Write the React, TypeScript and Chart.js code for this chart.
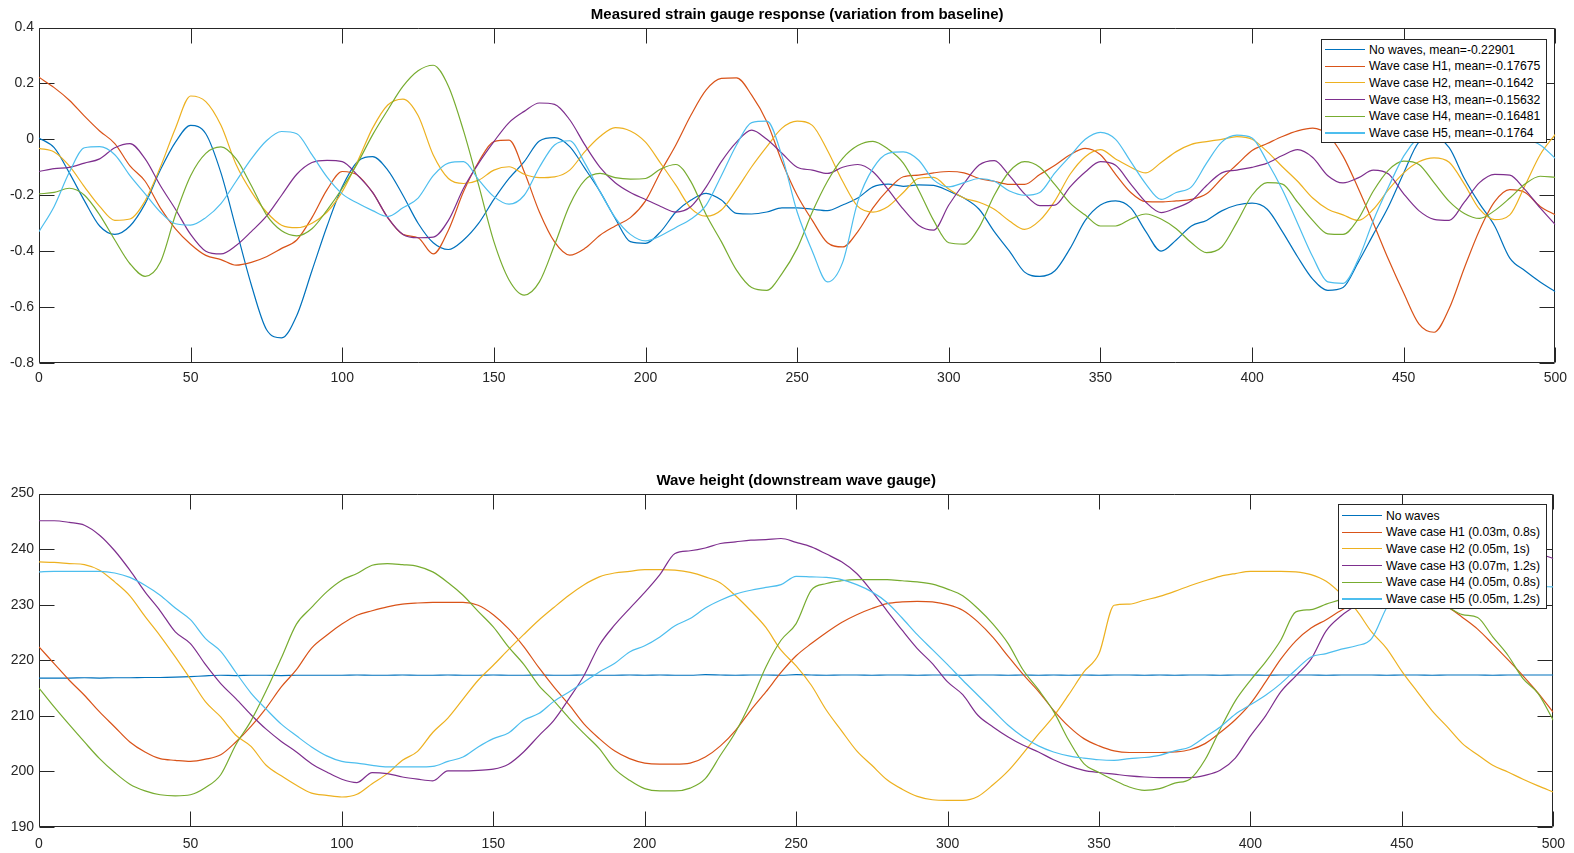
import React, { useEffect, useRef } from "react";
import { Chart, registerables } from "chart.js";

Chart.register(...registerables);

// ---------- data ----------
const sampleX = [
  0, 5, 10, 15, 20, 25, 30, 35, 40, 45,
  50, 55, 60, 65, 70, 75, 80, 85, 90, 95,
  100, 105, 110, 115, 120, 125, 130, 135, 140, 145,
  150, 155, 160, 165, 170, 175, 180, 185, 190, 195,
  200, 205, 210, 215, 220, 225, 230, 235, 240, 245,
  250, 255, 260, 265, 270, 275, 280, 285, 290, 295,
  300, 305, 310, 315, 320, 325, 330, 335, 340, 345,
  350, 355, 360, 365, 370, 375, 380, 385, 390, 395,
  400, 405, 410, 415, 420, 425, 430, 435, 440, 445,
  450, 455, 460, 465, 470, 475, 480, 485, 490, 495,
  500,
];

const xTicks = [0, 50, 100, 150, 200, 250, 300, 350, 400, 450, 500];
const strainTicks = [-0.8, -0.6, -0.4, -0.2, 0, 0.2, 0.4];
const waveTicks = [190, 200, 210, 220, 230, 240, 250];

const strainTitle = "Measured strain gauge response (variation from baseline)";
const waveTitle = "Wave height (downstream wave gauge)";

const strainLabels = [
  "No waves, mean=-0.22901",
  "Wave case H1, mean=-0.17675",
  "Wave case H2, mean=-0.1642",
  "Wave case H3, mean=-0.15632",
  "Wave case H4, mean=-0.16481",
  "Wave case H5, mean=-0.1764",
];
const waveLabels = [
  "No waves",
  "Wave case H1 (0.03m, 0.8s)",
  "Wave case H2 (0.05m, 1s)",
  "Wave case H3 (0.07m, 1.2s)",
  "Wave case H4 (0.05m, 0.8s)",
  "Wave case H5 (0.05m, 1.2s)",
];

const seriesColors = ["#0072BD", "#D95319", "#EDB120", "#7E2F8E", "#77AC30", "#4DBEEE"];

const strainNoWaves = [
  0.005, -0.03, -0.12, -0.22, -0.31, -0.34, -0.31, -0.23, -0.11, -0.01,
  0.05, 0.02, -0.12, -0.32, -0.52, -0.68, -0.71, -0.63, -0.47, -0.31,
  -0.17, -0.08, -0.062, -0.11, -0.2, -0.3, -0.37, -0.394, -0.36, -0.3,
  -0.215, -0.14, -0.08, -0.006, 0.006, -0.026, -0.104, -0.187, -0.283, -0.366,
  -0.372, -0.33, -0.26, -0.217, -0.193, -0.217, -0.265, -0.267, -0.26, -0.245,
  -0.245, -0.25, -0.255, -0.235, -0.21, -0.17, -0.16, -0.168, -0.163, -0.165,
  -0.185, -0.21, -0.25, -0.33, -0.4, -0.475, -0.49, -0.47, -0.39, -0.29,
  -0.235, -0.22, -0.245, -0.33, -0.4, -0.36, -0.31, -0.29, -0.256, -0.235,
  -0.228, -0.25, -0.33, -0.42, -0.5, -0.54, -0.53, -0.44, -0.34, -0.24,
  -0.12, -0.01, 0.01, -0.03, -0.14, -0.23, -0.31, -0.425, -0.47, -0.51,
  -0.545,
];
const strainH1 = [
  0.222, 0.185, 0.14, 0.083, 0.03, -0.015, -0.095, -0.15, -0.245, -0.32,
  -0.375, -0.415, -0.43, -0.45, -0.44, -0.42, -0.39, -0.36, -0.28, -0.18,
  -0.115, -0.128, -0.19, -0.28, -0.34, -0.352, -0.41, -0.325, -0.187, -0.08,
  -0.008, -0.003, -0.116, -0.26, -0.367, -0.414, -0.39, -0.343, -0.31, -0.28,
  -0.22, -0.116, -0.02, 0.087, 0.177, 0.218, 0.22, 0.158, 0.063, -0.08,
  -0.2, -0.29, -0.37, -0.385, -0.33, -0.245, -0.18, -0.134, -0.128, -0.12,
  -0.115, -0.12, -0.14, -0.15, -0.161, -0.161, -0.126, -0.093, -0.055, -0.032,
  -0.055, -0.125, -0.19, -0.223, -0.224, -0.22, -0.215, -0.195, -0.14, -0.09,
  -0.04, -0.015, 0.01, 0.03, 0.04, 0.016, -0.06, -0.175, -0.3, -0.43,
  -0.55, -0.66, -0.69, -0.605, -0.46, -0.325, -0.223, -0.18, -0.19, -0.24,
  -0.27,
];
const strainH2 = [
  -0.032, -0.045, -0.095, -0.17, -0.24, -0.29, -0.285, -0.22, -0.1, 0.04,
  0.155, 0.135, 0.05, -0.09, -0.187, -0.26, -0.307, -0.316, -0.3, -0.26,
  -0.187, -0.08, 0.04, 0.123, 0.144, 0.085, -0.056, -0.14, -0.158, -0.146,
  -0.11, -0.098, -0.125, -0.137, -0.134, -0.11, -0.044, 0.01, 0.042, 0.03,
  -0.01, -0.086, -0.164, -0.247, -0.275, -0.253, -0.18, -0.098, -0.026, 0.04,
  0.065, 0.05, -0.04, -0.15, -0.24, -0.26, -0.24, -0.19, -0.14, -0.136,
  -0.178, -0.21, -0.225, -0.25, -0.292, -0.322, -0.29, -0.22, -0.125, -0.062,
  -0.037, -0.07, -0.1, -0.12, -0.083, -0.044, -0.018, -0.008, 0.0, 0.01,
  0.0, -0.044, -0.098, -0.15, -0.21, -0.25, -0.27, -0.29, -0.25, -0.18,
  -0.12, -0.08, -0.066, -0.082, -0.16, -0.25, -0.287, -0.27, -0.165, -0.055,
  0.018,
];
const strainH3 = [
  -0.115, -0.105, -0.1, -0.085, -0.07, -0.03, -0.015, -0.07, -0.165, -0.25,
  -0.34, -0.4, -0.41, -0.38, -0.33, -0.275, -0.2, -0.125, -0.083, -0.075,
  -0.08, -0.128, -0.19, -0.28, -0.34, -0.352, -0.35, -0.29, -0.175, -0.085,
  -0.008, 0.06, 0.1, 0.13, 0.125, 0.07, -0.02, -0.1, -0.155, -0.19,
  -0.215, -0.24, -0.26, -0.24, -0.17, -0.08, -0.01, 0.033, 0.0, -0.05,
  -0.1, -0.11, -0.122, -0.1, -0.09, -0.116, -0.18, -0.25, -0.307, -0.325,
  -0.235, -0.158, -0.092, -0.076, -0.13, -0.195, -0.237, -0.235, -0.17, -0.117,
  -0.08, -0.093, -0.16, -0.225, -0.262, -0.245, -0.22, -0.165, -0.12, -0.11,
  -0.1, -0.085, -0.058, -0.037, -0.065, -0.13, -0.156, -0.138, -0.11, -0.124,
  -0.195, -0.255, -0.286, -0.29, -0.225, -0.155, -0.125, -0.128, -0.18, -0.245,
  -0.305,
];
const strainH4 = [
  -0.195, -0.19, -0.175, -0.2, -0.27, -0.36, -0.445, -0.49, -0.44, -0.27,
  -0.13, -0.05, -0.027, -0.07, -0.165, -0.27, -0.327, -0.345, -0.32, -0.253,
  -0.175, -0.086, 0.016, 0.105, 0.189, 0.245, 0.265, 0.19, 0.03, -0.165,
  -0.366, -0.503, -0.557, -0.51, -0.378, -0.235, -0.146, -0.122, -0.137, -0.142,
  -0.14, -0.106, -0.09, -0.152, -0.27, -0.366, -0.468, -0.53, -0.54, -0.48,
  -0.39, -0.26, -0.15, -0.068, -0.022, -0.007, -0.035, -0.085, -0.18, -0.29,
  -0.37, -0.375, -0.315, -0.2, -0.115, -0.08, -0.1, -0.162, -0.228, -0.271,
  -0.31, -0.31, -0.285, -0.267, -0.285, -0.32, -0.37, -0.405, -0.385, -0.297,
  -0.2, -0.155, -0.16, -0.225, -0.29, -0.338, -0.34, -0.285, -0.185, -0.11,
  -0.078, -0.09, -0.155, -0.222, -0.265, -0.283, -0.255, -0.21, -0.16, -0.132,
  -0.136,
];
const strainH5 = [
  -0.33, -0.24, -0.118, -0.03, -0.026, -0.055, -0.13, -0.195, -0.26, -0.302,
  -0.307, -0.28, -0.23, -0.15, -0.07, -0.005, 0.028, 0.02, -0.055, -0.135,
  -0.195, -0.228, -0.255, -0.276, -0.245, -0.21, -0.13, -0.085, -0.08, -0.145,
  -0.205, -0.232, -0.2, -0.1, -0.02, -0.005, -0.085, -0.187, -0.28, -0.34,
  -0.363, -0.345, -0.315, -0.285, -0.235, -0.13, -0.02, 0.06, 0.065, -0.06,
  -0.26, -0.4, -0.51, -0.44, -0.223, -0.104, -0.05, -0.045, -0.074, -0.145,
  -0.17, -0.155, -0.14, -0.15, -0.185, -0.2, -0.19, -0.12, -0.06, 0.0,
  0.025, 0.0, -0.08, -0.16, -0.215, -0.19, -0.17, -0.085, -0.01, 0.015,
  0.005, -0.08, -0.18, -0.3, -0.42, -0.51, -0.515, -0.43, -0.29, -0.17,
  -0.06, 0.01, 0.05, 0.07, 0.06, 0.04, 0.02, 0.01, 0.0, -0.02,
  -0.068,
];

const waveNoWaves = [
  216.8, 216.8, 216.8, 216.85, 216.8, 216.85, 216.85, 216.9, 216.9, 216.95,
  217.05, 217.2, 217.3, 217.25, 217.3, 217.3, 217.25, 217.3, 217.3, 217.3,
  217.3, 217.35, 217.3, 217.3, 217.35, 217.3, 217.3, 217.35, 217.3, 217.3,
  217.35, 217.3, 217.3, 217.35, 217.3, 217.3, 217.35, 217.3, 217.3, 217.35,
  217.3, 217.35, 217.3, 217.3, 217.4, 217.35, 217.3, 217.35, 217.35, 217.3,
  217.4, 217.35, 217.3, 217.35, 217.35, 217.3, 217.35, 217.35, 217.3, 217.35,
  217.35, 217.3, 217.35, 217.35, 217.3, 217.35, 217.3, 217.35, 217.3, 217.35,
  217.3, 217.35, 217.35, 217.3, 217.35, 217.3, 217.35, 217.35, 217.3, 217.35,
  217.35, 217.3, 217.35, 217.35, 217.35, 217.3, 217.35, 217.35, 217.35, 217.3,
  217.35, 217.35, 217.3, 217.35, 217.35, 217.35, 217.3, 217.35, 217.35, 217.35,
  217.35,
];
const waveH1 = [
  222.4, 219.4, 216.4, 213.7, 210.7, 208, 205.3, 203.5, 202.3, 202,
  201.8, 202.2, 203, 205.3, 208.1, 211.4, 215.2, 218.3, 222.2, 224.5,
  226.5, 228.1, 228.9, 229.6, 230.1, 230.3, 230.4, 230.4, 230.4, 229.9,
  228.2, 225.7, 222.5, 218.7, 215.2, 212, 208.5, 205.9, 203.7, 202.3,
  201.5, 201.3, 201.3, 201.5, 202.6, 204.6, 207.4, 211, 214.3, 217.8,
  220.8, 223, 225, 226.8, 228.2, 229.3, 230.2, 230.5, 230.6, 230.5,
  230, 229, 226.9, 224.1, 220.7, 217.4, 214.4, 211, 208.1, 205.9,
  204.6, 203.7, 203.4, 203.4, 203.4, 203.5, 203.9, 205, 207, 209.3,
  212.2, 216.1, 220.2, 223.5, 225.8, 227.3, 229, 230.3, 230.9, 231,
  230.7, 230.6, 230.2, 229.6, 227.7, 225.6, 222.9, 220.1, 217.2, 214.1,
  210.6,
];
const waveH2 = [
  237.7, 237.6, 237.4, 237.2, 236.2, 234.1, 231.6, 227.9, 224.4, 220.6,
  216.6, 212.5, 209.8, 206.5, 204.5, 201.1, 199.2, 197.5, 196.1, 195.7,
  195.4, 195.9, 197.8, 199.6, 202, 203.6, 207, 209.6, 213, 216.4,
  219.1, 221.9, 224.6, 227.2, 229.5, 231.7, 233.6, 235, 235.7, 236,
  236.3, 236.3, 236.2, 235.8, 235, 233.9, 231.6, 228.9, 225.9, 221.8,
  219, 215.5, 211, 207.3, 203.7, 201.1, 198.5, 196.8, 195.5, 194.9,
  194.8, 194.8, 195.5, 197.6, 200.1, 203.3, 206.7, 209.9, 213.8, 217.9,
  221.2, 229.9, 230.1, 230.8, 231.5, 232.4, 233.4, 234.3, 235.1, 235.6,
  236, 236, 236, 235.9, 235.4, 234.2, 231.9, 229, 225.1, 222.1,
  218, 214.4, 210.9, 208, 205, 203, 201.1, 199.9, 198.6, 197.4,
  196.3,
];
const waveH3 = [
  245.1, 245.1, 244.8, 244.3, 242.5, 239.7, 236.2, 232.3, 228.9, 225.1,
  223, 219.2, 215.8, 213.1, 210.2, 207.6, 205.4, 203.5, 201.4, 199.9,
  198.6, 198, 199.8, 199.6, 199, 198.6, 198.3, 200.1, 200.1, 200.2,
  200.4, 201.3, 203.5, 206.4, 209.2, 213.1, 217.3, 222.7, 226.3, 229.3,
  232.2, 235.4, 239.2, 239.7, 240.2, 241, 241.3, 241.6, 241.7, 241.9,
  241.2, 240.4, 239.1, 237.7, 235.6, 232.4, 228.9, 225.4, 222.1, 219.4,
  216.1, 213.8, 210.1, 208, 206.2, 204.7, 203.5, 202.1, 201, 200.2,
  199.8, 199.5, 199.2, 199, 198.9, 198.9, 198.9, 199.3, 200.2, 202.4,
  206.4, 210, 214.3, 217.2, 220.2, 225.3, 228, 230, 232.8, 235.5,
  237.6, 239.2, 240.3, 240.9, 241.1, 241, 240.7, 240.3, 239.8, 239.2,
  238.3,
];
const waveH4 = [
  215, 211.6, 208.4, 205.3, 202.3, 199.8, 197.7, 196.5, 195.8, 195.6,
  195.8, 197.1, 199.4, 204.8, 209.1, 214.5, 220.4, 226.5, 229.5, 232.3,
  234.4, 235.6, 237.1, 237.4, 237.2, 236.9, 235.9, 234, 231.7, 228.8,
  226, 222.4, 219.3, 215.5, 212.7, 209.6, 206.8, 204.1, 200.5, 198.4,
  196.9, 196.5, 196.5, 197, 198.7, 202.9, 207.1, 212.5, 218.8, 223.6,
  226.6, 232.6, 233.8, 234.3, 234.5, 234.5, 234.5, 234.3, 234.1, 233.7,
  232.8, 231.6, 229.3, 226.5, 223, 218.2, 214.7, 210.8, 205.6, 201.4,
  199.8, 198.4, 197.2, 196.6, 196.9, 197.9, 198.6, 202.1, 207.6, 212.7,
  216.4, 219.7, 223.6, 228.7, 229.1, 230.1, 231, 232.4, 233.4, 234,
  234.2, 232.8, 231, 229.6, 228.2, 227.7, 224.2, 220.9, 216.7, 214,
  209.2,
];
const waveH5 = [
  235.9, 236, 236, 236, 236, 235.7, 234.9, 233.5, 231.7, 229.4,
  227.3, 223.9, 221.6, 217.8, 214.1, 211.2, 208.5, 206.4, 204.4, 202.8,
  201.8, 201.5, 201.1, 200.8, 200.8, 200.8, 200.9, 201.8, 202.6, 204.4,
  205.9, 206.9, 209.2, 210.4, 212.6, 214.3, 216.1, 217.9, 219.4, 221.5,
  222.6, 224.2, 226.2, 227.5, 229.4, 230.8, 231.9, 232.6, 233.1, 233.6,
  235.1, 235, 234.9, 234.5, 233.6, 232.3, 230.4, 227.6, 224.6, 221.9,
  219.2, 216.4, 213.7, 211, 208.3, 206.2, 204.6, 203.5, 202.8, 202.4,
  202.1, 202, 202.3, 202.5, 202.9, 203.7, 204.4, 206.2, 208, 210.3,
  212, 213.7, 215.8, 218.3, 220.6, 221.2, 222, 222.6, 223.9, 229.5,
  233.5, 235, 235.5, 235.5, 235.2, 234.8, 234.4, 234, 233.6, 233.3,
  233.2,
];

const strainSeries = [strainNoWaves, strainH1, strainH2, strainH3, strainH4, strainH5];
const waveSeries = [waveNoWaves, waveH1, waveH2, waveH3, waveH4, waveH5];

// ---------- styling ----------
const FONT = "'Liberation Sans', Arial, Helvetica, sans-serif";
const AXIS_COLOR = "#262626";
const W = 1574;

const boxPlugin = {
  id: "matlabBox",
  beforeDatasetsDraw(chart: any) {
    const { ctx, chartArea, scales } = chart;
    const { left, right, top, bottom } = chartArea;
    const L = Math.round(left) + 0.5;
    const R = Math.round(right) - 0.5;
    const T = Math.round(top) + 0.5;
    const B = Math.round(bottom) - 0.5;
    const tl = 15;
    ctx.save();
    ctx.strokeStyle = AXIS_COLOR;
    ctx.lineWidth = 1;
    ctx.beginPath();
    ctx.rect(L, T, R - L, B - T);
    scales.x.ticks.forEach((t: any) => {
      const px = Math.round(scales.x.getPixelForValue(t.value)) + 0.5;
      ctx.moveTo(px, B);
      ctx.lineTo(px, B - tl);
      ctx.moveTo(px, T);
      ctx.lineTo(px, T + tl);
    });
    scales.y.ticks.forEach((t: any) => {
      const py = Math.round(scales.y.getPixelForValue(t.value)) + 0.5;
      ctx.moveTo(L, py);
      ctx.lineTo(L + tl, py);
      ctx.moveTo(R, py);
      ctx.lineTo(R - tl, py);
    });
    ctx.stroke();
    ctx.restore();
  },
};

function buildConfig(
  title: string,
  series: number[][],
  labels: string[],
  yMin: number,
  yMax: number,
  yTickValues: number[],
  xAxisHeight: number,
  xLabelPad: number,
  yFmt: (v: number) => string
) {
  return {
    type: "line" as const,
    data: {
      datasets: series.map((ys, i) => ({
        label: labels[i],
        data: ys.map((y, j) => ({ x: sampleX[j], y })),
        borderColor: seriesColors[i],
        backgroundColor: seriesColors[i],
        borderWidth: 1.2,
        pointRadius: 0,
        fill: false,
        cubicInterpolationMode: "monotone" as const,
        order: 5 - i,
      })),
    },
    options: {
      animation: false as const,
      responsive: false,
      maintainAspectRatio: false,
      events: [],
      layout: { padding: { left: 0, right: 16, top: 0, bottom: 0 } },
      plugins: {
        legend: { display: false },
        tooltip: { enabled: false },
        title: {
          display: true,
          text: title,
          fullSize: false,
          color: "#000",
          font: { family: FONT, size: 15, weight: "bold" as const, lineHeight: 1.2 },
          padding: { top: 6, bottom: 3.5 },
        },
      },
      scales: {
        x: {
          type: "linear" as const,
          min: 0,
          max: 500,
          grid: { display: false, drawTicks: false },
          border: { display: false },
          afterBuildTicks: (scale: any) => {
            scale.ticks = xTicks.map((v) => ({ value: v }));
          },
          afterFit: (scale: any) => {
            scale.height = xAxisHeight;
          },
          ticks: {
            color: AXIS_COLOR,
            font: { family: FONT, size: 14 },
            padding: xLabelPad,
            maxRotation: 0,
            autoSkip: false,
            callback: (v: any) => String(v),
          },
        },
        y: {
          type: "linear" as const,
          min: yMin,
          max: yMax,
          grid: { display: false, drawTicks: false },
          border: { display: false },
          afterBuildTicks: (scale: any) => {
            scale.ticks = yTickValues.map((v) => ({ value: v }));
          },
          afterFit: (scale: any) => {
            scale.width = 39;
          },
          ticks: {
            color: AXIS_COLOR,
            font: { family: FONT, size: 14 },
            padding: 5,
            autoSkip: false,
            callback: (v: any) => yFmt(Number(v)),
          },
        },
      },
    },
    plugins: [boxPlugin],
  };
}

function fmtStrain(v: number) {
  const n = Math.round(v * 10) / 10;
  return n === 0 ? "0" : String(n);
}
function fmtWave(v: number) {
  return String(Math.round(v));
}

type LegendProps = {
  left: number;
  top: number;
  width: number;
  height: number;
  lineX0: number;
  lineX1: number;
  textX: number;
  firstRow: number;
  rowStep: number;
  labels: string[];
};

function LegendBox(p: LegendProps) {
  return (
    <>
      <div
        style={{
          position: "absolute",
          left: p.left,
          top: p.top,
          width: p.width,
          height: p.height,
          boxSizing: "border-box",
          border: `1px solid ${AXIS_COLOR}`,
          background: "#fff",
        }}
      />
      {p.labels.map((lab, i) => {
        const cy = p.firstRow + i * p.rowStep;
        return (
          <React.Fragment key={lab}>
            <div
              style={{
                position: "absolute",
                left: p.lineX0,
                top: cy - 0.6,
                width: p.lineX1 - p.lineX0,
                height: 1.2,
                background: seriesColors[i],
              }}
            />
            <div
              style={{
                position: "absolute",
                left: p.textX,
                top: cy - 8,
                height: 16,
                lineHeight: "16px",
                fontFamily: FONT,
                fontSize: 12.2,
                color: "#000",
                whiteSpace: "nowrap",
              }}
            >
              {lab}
            </div>
          </React.Fragment>
        );
      })}
    </>
  );
}

export default function App() {
  const topRef = useRef<HTMLCanvasElement | null>(null);
  const botRef = useRef<HTMLCanvasElement | null>(null);

  useEffect(() => {
    const charts: Chart[] = [];
    if (topRef.current) {
      charts.push(
        new Chart(
          topRef.current,
          buildConfig(strainTitle, strainSeries, strainLabels, -0.8, 0.4, strainTicks, 37, 7, fmtStrain) as any
        )
      );
    }
    if (botRef.current) {
      charts.push(
        new Chart(
          botRef.current,
          buildConfig(waveTitle, waveSeries, waveLabels, 190, 250, waveTicks, 26, 9, fmtWave) as any
        )
      );
    }
    return () => charts.forEach((c) => c.destroy());
  }, []);

  return (
    <div
      style={{
        position: "absolute",
        left: 0,
        top: 0,
        width: W,
        height: 853,
        background: "#fff",
        overflow: "hidden",
      }}
    >
      <canvas
        ref={topRef}
        width={W}
        height={400}
        style={{ position: "absolute", left: 0, top: 0, width: W, height: 400 }}
      />
      <canvas
        ref={botRef}
        width={W}
        height={387}
        style={{ position: "absolute", left: 0, top: 466, width: W, height: 387 }}
      />
      <LegendBox
        left={1321}
        top={39}
        width={226}
        height={104}
        lineX0={1325}
        lineX1={1365}
        textX={1369}
        firstRow={49.5}
        rowStep={16.7}
        labels={strainLabels}
      />
      <LegendBox
        left={1338}
        top={504}
        width={209}
        height={105}
        lineX0={1342}
        lineX1={1382}
        textX={1386}
        firstRow={515.5}
        rowStep={16.7}
        labels={waveLabels}
      />
    </div>
  );
}
